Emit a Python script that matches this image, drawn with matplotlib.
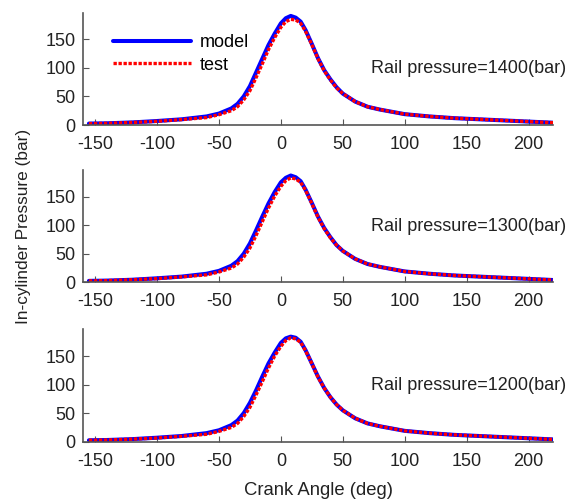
import matplotlib
matplotlib.use('Agg')
import matplotlib.pyplot as plt

plt.rcParams['font.family'] = ['Liberation Sans', 'DejaVu Sans']
plt.rcParams['axes.unicode_minus'] = False

# crank angle samples (deg)
angle = [-155, -140, -120, -100, -80, -60, -50, -40, -35, -30, -25, -20, -15, -10, -5, 0, 4, 8,
         12, 16, 20, 25, 30, 35, 40, 45, 50, 60, 70, 80, 100, 120, 140, 160, 180, 200, 220]

model_1400 = [2.5, 3, 4.5, 7, 10, 15, 20, 29, 37, 50, 68, 92, 116, 140, 160, 178, 187, 191,
              188, 181, 166, 142, 117, 96, 80, 66, 55, 41, 32, 27, 19, 15, 12, 10, 8, 6, 4]
test_1400 = [2.5, 3, 4.5, 6.5, 9.5, 13, 18, 25, 32, 44, 60, 83, 107, 132, 153, 171, 181, 185,
             184, 178, 164, 141, 116, 95, 79, 65, 55, 41, 32, 27, 19, 15, 12, 10, 8, 6, 4]

model_1300 = [2.5, 3, 4.5, 7, 10, 15, 20, 29, 37, 50, 68, 91, 115, 138, 158, 175, 183, 187,
              184, 177, 162, 139, 115, 95, 79, 65, 55, 41, 32, 27, 19, 15, 12, 10, 8, 6, 4]
test_1300 = [2.5, 3, 4.5, 6.5, 9.5, 13, 18, 25, 32, 44, 60, 82, 106, 130, 151, 168, 178, 183,
             181, 175, 161, 138, 114, 94, 78, 65, 55, 41, 32, 27, 19, 15, 12, 10, 8, 6, 4]

model_1200 = [2.5, 3, 4.5, 7, 10, 15, 20, 29, 37, 50, 68, 90, 114, 137, 156, 173, 181, 184,
              182, 175, 160, 137, 114, 94, 78, 65, 55, 41, 32, 27, 19, 15, 12, 10, 8, 6, 4]
test_1200 = [2.5, 3, 4.5, 6.5, 9.5, 13, 18, 25, 32, 44, 60, 82, 105, 129, 150, 167, 177, 182,
             180, 174, 159, 137, 113, 94, 78, 65, 55, 41, 32, 27, 19, 15, 12, 10, 8, 6, 4]

labels = ['Rail pressure=1400(bar)', 'Rail pressure=1300(bar)', 'Rail pressure=1200(bar)']
models = [model_1400, model_1300, model_1200]
tests = [test_1400, test_1300, test_1200]

xticks = [-150, -100, -50, 0, 50, 100, 150, 200]
yticks = [0, 50, 100, 150]

fig = plt.figure(figsize=(5.76, 5.0), dpi=100)
boxes = [(0.1436, 0.750, 0.817, 0.225),
         (0.1436, 0.4354, 0.817, 0.225),
         (0.1436, 0.1166, 0.817, 0.225)]

for i, box in enumerate(boxes):
    ax = fig.add_axes(box)
    ax.plot(angle, models[i], color='#0000ff', lw=2.9, label='model', solid_capstyle='round')
    ax.plot(angle, tests[i], color='#ff0000', lw=2.4, ls=(0, (1, 0.5)), label='test')
    ax.set_xlim(-160, 220)
    ax.set_ylim(0, 197)
    ax.set_xticks(xticks)
    ax.set_yticks(yticks)
    ax.tick_params(direction='in', labelsize=13, length=4, width=0.8, colors='#555555',
                   labelcolor='#222222')
    ax.tick_params(axis='x', pad=8)
    ax.tick_params(axis='y', pad=5)
    for s in ['top', 'right']:
        ax.spines[s].set_visible(False)
    for s in ['left', 'bottom']:
        ax.spines[s].set_color('#555555')
        ax.spines[s].set_linewidth(1.2)
    ax.text(1.027, 0.50, labels[i], transform=ax.transAxes, ha='right', va='center',
            fontsize=13, color='#222222')
    if i == 0:
        ax.legend(loc='upper left', bbox_to_anchor=(0.05, 0.872), frameon=False,
                  fontsize=13, handlelength=4.3, handletextpad=0.5, labelspacing=0.3,
                  borderaxespad=0)
    if i == 2:
        ax.set_xlabel('Crank Angle (deg)', fontsize=13.3, color='#222222', labelpad=9)

fig.text(0.04, 0.548, 'In-cylinder Pressure (bar)', rotation=90, ha='center', va='center',
         fontsize=12.4, color='#222222')

fig.savefig('out.png', dpi=100)
